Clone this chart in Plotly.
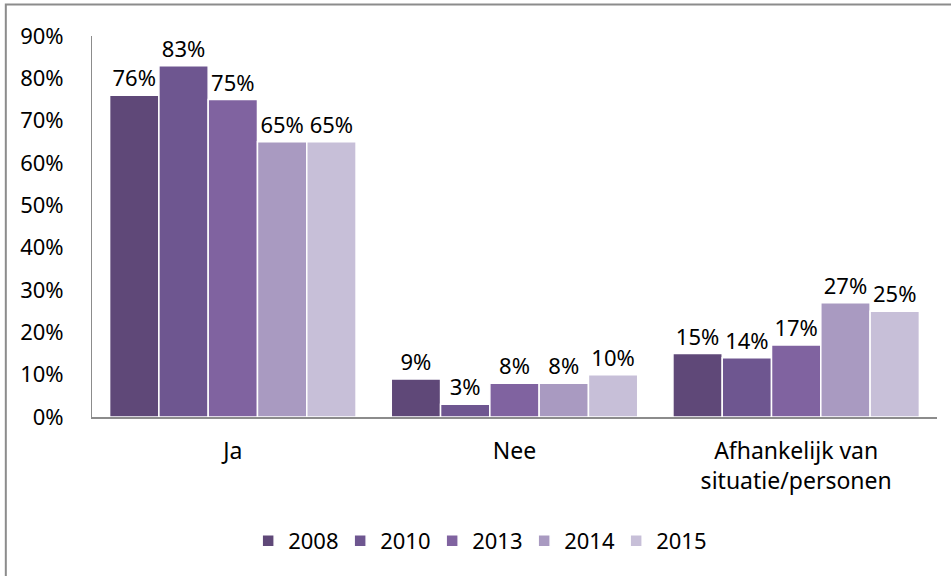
import plotly.graph_objects as go

categories = ["Ja", "Nee", "Afhankelijk van<br>situatie/personen"]
years = ["2008", "2010", "2013", "2014", "2015"]
values = {
    "2008": [0.76, 0.09, 0.15],
    "2010": [0.83, 0.03, 0.14],
    "2013": [0.75, 0.08, 0.17],
    "2014": [0.65, 0.08, 0.27],
    "2015": [0.65, 0.10, 0.25],
}
colors = ["#5f4878", "#6e5690", "#8063a0", "#a99ac1", "#c7bfd8"]
y_ticks = [0, 0.1, 0.2, 0.3, 0.4, 0.5, 0.6, 0.7, 0.8, 0.9]

FONT = "Noto Sans"

fig = go.Figure()
for yr, col in zip(years, colors):
    vals = values[yr]
    fig.add_trace(go.Bar(
        name=yr, x=categories, y=vals,
        marker=dict(color=col, line=dict(color="white", width=1.5)),
        text=[f"{round(v*100)}%" for v in vals],
        textposition="outside",
        textfont=dict(family=FONT, size=22, color="black"),
        cliponaxis=False,
    ))

border = dict(color="#8c8c8c", width=2)
fig.update_layout(
    width=951, height=576,
    margin=dict(l=92, r=14, t=36, b=159, autoexpand=False),
    paper_bgcolor="white", plot_bgcolor="white",
    barmode="group", bargap=0.125, bargroupgap=0,
    font=dict(family=FONT, size=20, color="black"),
    showlegend=True,
    legend=dict(orientation="h", x=0.457, xanchor="center", y=-0.325, yanchor="middle",
                font=dict(family=FONT, size=22, color="black"),
                entrywidth=47, entrywidthmode="pixels", itemwidth=30),
    shapes=[
        dict(type="rect", xref="paper", yref="paper", x0=-0.102, x1=1.05, y0=-0.5, y1=1.0827,
             line=border, fillcolor="rgba(0,0,0,0)", layer="above"),
    ],
)
fig.update_xaxes(showline=True, linecolor="#8c8c8c", linewidth=2, ticks="",
                 tickfont=dict(family=FONT, size=23, color="black"),
                 ticklabelstandoff=12, automargin=False)
fig.update_yaxes(range=[0, 0.9], tickvals=y_ticks, tickformat=".0%",
                 showgrid=False, zeroline=False,
                 showline=True, linecolor="#8c8c8c", linewidth=1,
                 tickfont=dict(family=FONT, size=22, color="black"),
                 ticklabelstandoff=23, automargin=False)

fig.write_html("out.html", config={"displayModeBar": False},
               post_script="document.body.style.margin='0px';document.body.style.overflow='hidden';")
